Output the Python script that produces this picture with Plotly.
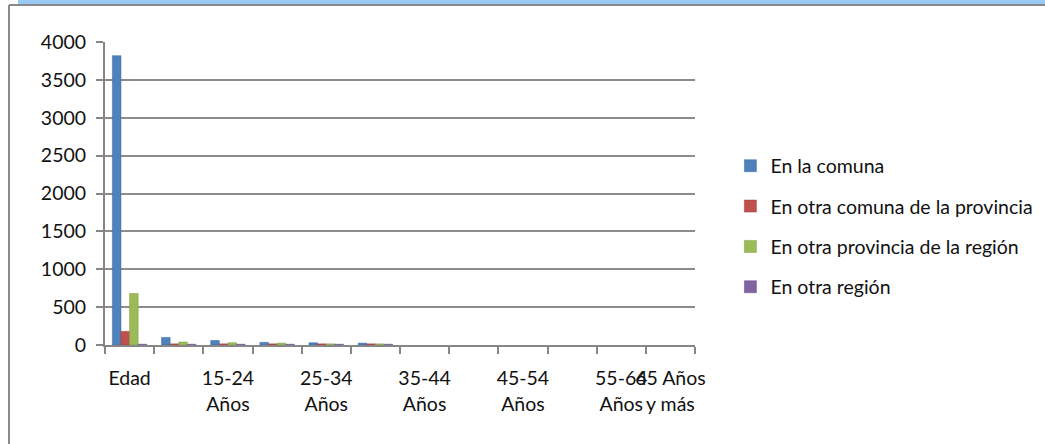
import plotly.graph_objects as go

categories = ["Edad", "", "15-24 Años", "", "25-34 Años", "", "35-44 Años", "",
              "45-54 Años", "", "55-64 Años", "65 Años y más"]
tick_labels = ["Edad", "", "15-24<br>Años", "", "25-34<br>Años", "", "35-44<br>Años", "",
               "45-54<br>Años", "", "55-64<br>Años", "65 Años<br>y más"]
series_names = ["En la comuna", "En otra comuna de la provincia",
                "En otra provincia de la región", "En otra región"]
en_la_comuna = [3820, 100, 60, 35, 30, 25, None, None, None, None, None, None]
otra_comuna_prov = [180, 15, 15, 15, 15, 15, None, None, None, None, None, None]
otra_prov_region = [680, 40, 30, 25, 15, 15, None, None, None, None, None, None]
otra_region = [10, 10, 10, 10, 10, 10, None, None, None, None, None, None]
colors = ["#4F81BD", "#C0504D", "#9BBB59", "#8064A2"]
line_colors = ["#3A6AA3", "#9E3B38", "#7E9C42", "#664E86"]
y_ticks = [0, 500, 1000, 1500, 2000, 2500, 3000, 3500, 4000]

xpos = list(range(len(categories)))
FONT = "Lato"
FS = 19.5

fig = go.Figure()
for name, vals, c, lc in zip(series_names,
                             [en_la_comuna, otra_comuna_prov, otra_prov_region, otra_region],
                             colors, line_colors):
    fig.add_trace(go.Bar(x=xpos, y=vals, name=name, legendgroup=name,
                         marker=dict(color=c, line=dict(color=lc, width=0.5))))

fig.update_layout(
    width=1045, height=444,
    margin=dict(l=105, r=350, t=42, b=99, autoexpand=False),
    paper_bgcolor="white", plot_bgcolor="white",
    font=dict(family=FONT, size=FS, color="#111111"),
    barmode="group", bargap=0.3, bargroupgap=0.0,
    showlegend=True,
    legend=dict(x=1.06, y=0.655, xanchor="left", yanchor="top",
                traceorder="grouped", tracegroupgap=12,
                font=dict(family=FONT, size=FS, color="#111111"),
                bgcolor="rgba(0,0,0,0)", itemwidth=30),
    xaxis=dict(range=[-0.5, len(categories) - 0.5], tickmode="array",
               tickvals=xpos, ticktext=tick_labels, ticks="", tickangle=0,
               ticklabelstandoff=15,
               showline=True, linecolor="#868686", linewidth=2,
               showgrid=False, zeroline=False,
               minor=dict(ticks="outside", tickmode="array",
                          tickvals=[i - 0.5 for i in range(len(categories) + 1)],
                          ticklen=7, tickcolor="#868686", tickwidth=2, showgrid=False),
               tickfont=dict(family=FONT, size=FS, color="#111111")),
    yaxis=dict(range=[0, 4000], tickmode="array", tickvals=y_ticks,
               ticks="outside", ticklen=7, tickcolor="#868686", tickwidth=2,
               ticklabelstandoff=6,
               showline=True, linecolor="#868686", linewidth=2,
               showgrid=True, gridcolor="#8c8c8c", gridwidth=2,
               zeroline=False,
               tickfont=dict(family=FONT, size=FS, color="#111111")),
)

# frame decoration: blue title band, top rule and left rule (paper coords)
pw, ph = 590.0, 303.0
def px_x(px):
    return (px - 105) / pw
def px_y(py):
    return (345 - py) / ph
fig.add_shape(type="rect", xref="paper", yref="paper",
              x0=px_x(18), x1=px_x(1046), y0=px_y(4), y1=px_y(-1),
              fillcolor="#99C9F5", line=dict(width=0), layer="below")
fig.add_shape(type="line", xref="paper", yref="paper",
              x0=px_x(9), x1=px_x(1046), y0=px_y(5), y1=px_y(5),
              line=dict(color="#8a8a8a", width=2))
fig.add_shape(type="line", xref="paper", yref="paper",
              x0=px_x(9), x1=px_x(9), y0=px_y(5), y1=px_y(445),
              line=dict(color="#8a8a8a", width=2))

fig.write_html("out.html", config={"displayModeBar": False},
               post_script="document.body.style.margin='0';document.body.style.overflow='hidden';")
